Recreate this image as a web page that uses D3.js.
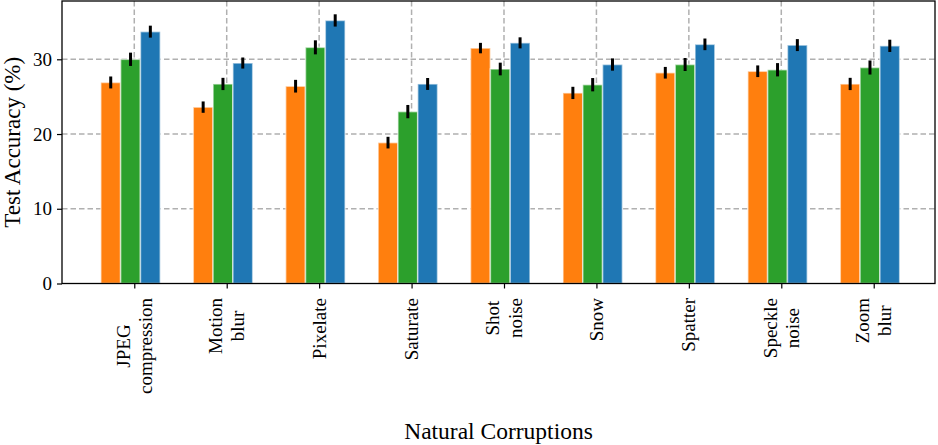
<!DOCTYPE html>
<html>
<head>
<meta charset="utf-8">
<script src="https://cdn.jsdelivr.net/npm/d3@7"></script>
<style>
  body { margin: 0; background: #fff; }
  svg { display: block; font-family: "Liberation Serif", "Times New Roman", serif; }
</style>
</head>
<body>
<svg width="938" height="445"></svg>
<script>
// data
var categories = ["JPEG\ncompression", "Motion\nblur", "Pixelate", "Saturate", "Shot\nnoise",
                  "Snow", "Spatter", "Speckle\nnoise", "Zoom\nblur"];
var series = ["orange", "green", "blue"];
var orangeVals = [26.9, 23.6, 26.4, 18.85, 31.5, 25.5, 28.2, 28.4, 26.7];
var greenVals  = [30.0, 26.7, 31.6, 23.0, 28.7, 26.6, 29.3, 28.6, 28.9];
var blueVals   = [33.7, 29.5, 35.2, 26.7, 32.2, 29.3, 32.0, 31.9, 31.8];
var orangeErr  = [0.80, 0.76, 0.85, 0.78, 0.70, 0.82, 0.78, 0.78, 0.82];
var greenErr   = [0.89, 0.82, 0.94, 0.89, 0.85, 0.89, 0.87, 0.89, 0.94];
var blueErr    = [0.80, 0.74, 0.82, 0.80, 0.74, 0.82, 0.78, 0.80, 0.82];
var yTicks = [0, 10, 20, 30];

var colors = {orange: "#ff7f0e", green: "#2ca02c", blue: "#1f77b4"};
var vals = {orange: orangeVals, green: greenVals, blue: blueVals};
var errs = {orange: orangeErr, green: greenErr, blue: blueErr};

var svg = d3.select("svg");
var mLeft = 62, mRight = 935, mTop = 1, mBottom = 283.5;

// x: category index -> pixel, y: accuracy -> pixel
var x = d3.scaleLinear().domain([-0.782, 8.663]).range([mLeft, mRight]);
var y = d3.scaleLinear().domain([0, 37.8]).range([mBottom, mTop]);
var step = x(1) - x(0);
// sub-position of each series inside a group (in category units)
var sub = d3.scaleBand().domain(series).range([-0.362, 0.281]).padding(0);
var bw = sub.bandwidth() * step;

// grid
var grid = svg.append("g");
grid.selectAll("line.h")
  .data(yTicks.slice(1))
  .join("line")
    .attr("class", "h")
    .attr("x1", mLeft).attr("x2", mRight)
    .attr("y1", d => y(d)).attr("y2", d => y(d));
grid.selectAll("line.v")
  .data(categories)
  .join("line")
    .attr("class", "v")
    .attr("x1", (d, i) => x(i)).attr("x2", (d, i) => x(i))
    .attr("y1", mTop).attr("y2", mBottom);
grid.selectAll("line")
  .style("stroke", "#b0b0b0")
  .style("stroke-width", 1.5)
  .style("stroke-dasharray", "5.5,3");

// bars
series.forEach(function(s) {
  var g = svg.append("g");
  g.selectAll("rect")
    .data(vals[s])
    .join("rect")
      .attr("x", (d, i) => x(i + sub(s)))
      .attr("width", bw)
      .attr("y", d => y(d))
      .attr("height", d => y(0) - y(d))
      .style("fill", colors[s])
      .style("stroke", "#fff")
      .style("stroke-opacity", 0.55)
      .style("stroke-width", 1.6);
  g.selectAll("line")
    .data(vals[s])
    .join("line")
      .attr("x1", (d, i) => x(i + sub(s)) + bw / 2)
      .attr("x2", (d, i) => x(i + sub(s)) + bw / 2)
      .attr("y1", (d, i) => y(d - errs[s][i]))
      .attr("y2", (d, i) => y(d + errs[s][i]))
      .style("stroke", "#000")
      .style("stroke-width", 3);
});

// y axis
var yAxis = svg.append("g")
  .attr("transform", "translate(" + mLeft + ",0)")
  .call(d3.axisLeft(y).tickValues(yTicks).tickSize(5).tickPadding(5).tickFormat(d3.format("d")));
yAxis.select(".domain").remove();
yAxis.selectAll("text").style("font-size", "19px").style("font-family", "Liberation Serif, serif").attr("fill", "#000");
yAxis.selectAll("line").style("stroke", "#000").style("stroke-width", 1.2);

// x axis ticks
var xAxis = svg.append("g")
  .attr("transform", "translate(0," + mBottom + ")")
  .call(d3.axisBottom(x).tickValues(d3.range(categories.length)).tickSize(5).tickFormat(""));
xAxis.select(".domain").remove();
xAxis.selectAll("line").style("stroke", "#000").style("stroke-width", 1.2);

// rotated multi-line category labels
var lineH = 22.5;
categories.forEach(function(c, i) {
  var lines = c.split("\n");
  var g = svg.append("g")
    .attr("transform", "translate(" + x(i) + "," + 298 + ") rotate(-90)");
  var texts = g.selectAll("text")
    .data(lines)
    .join("text")
      .attr("text-anchor", "middle")
      .attr("dominant-baseline", "central")
      .attr("y", (d, k) => (k - (lines.length - 1) / 2) * lineH)
      .style("font-size", "19px")
      .text(d => d);
  var maxW = d3.max(texts.nodes(), n => n.getComputedTextLength());
  texts.attr("x", -maxW / 2);
});

// frame
svg.append("rect")
  .attr("x", mLeft).attr("y", mTop)
  .attr("width", mRight - mLeft).attr("height", mBottom - mTop)
  .style("fill", "none")
  .style("stroke", "#000")
  .style("stroke-width", 1.3);

// axis titles
svg.append("text")
  .attr("transform", "translate(20," + (mTop + mBottom) / 2 + ") rotate(-90)")
  .attr("text-anchor", "middle")
  .style("font-size", "23px")
  .text("Test Accuracy (%)");

svg.append("text")
  .attr("x", (mLeft + mRight) / 2)
  .attr("y", 439)
  .attr("text-anchor", "middle")
  .style("font-size", "23.5px")
  .text("Natural Corruptions");
</script>
</body>
</html>
